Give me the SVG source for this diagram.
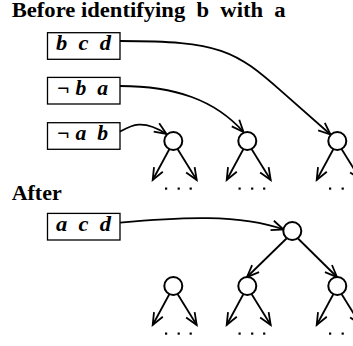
<svg xmlns="http://www.w3.org/2000/svg" width="353" height="346" viewBox="0 0 353 346">
<style>
.t{font-family:"Liberation Serif","Times New Roman",serif;font-weight:bold;font-size:20px;fill:#000;white-space:pre}
.i{font-style:italic}
.box{fill:#fff;stroke:#000;stroke-width:1.3}
.n{fill:#fff;stroke:#000;stroke-width:2}
.e{fill:none;stroke:#000;stroke-width:1.8;marker-end:url(#ah)}
.d{fill:#000}
</style>
<defs>
<marker id="ah" markerUnits="userSpaceOnUse" orient="auto" markerWidth="30" markerHeight="30" refX="0" refY="0" viewBox="-15 -15 30 30" overflow="visible">
<path d="M-12,-5 L0,0 L-12,5" fill="none" stroke="#000" stroke-width="1.8"/>
</marker>
<g id="dots"><rect x="-1" y="-1" width="2.2" height="2.2"/><rect x="11.6" y="-1" width="2.2" height="2.2"/><rect x="23.6" y="-1" width="2.2" height="2.2"/></g>
</defs>
<rect width="353" height="346" fill="#fff"/>
<g id="titles">
<text class="t" x="11.7" y="17.3" textLength="274" lengthAdjust="spacingAndGlyphs">Before identifying  b  with  a</text>
<text class="t" x="11.7" y="200" textLength="50" lengthAdjust="spacingAndGlyphs">After</text>
</g>
<g id="clause-bcd"><rect class="box" x="47.5" y="32.7" width="72.5" height="26.6"/><text class="t i" x="56" y="50" textLength="55" lengthAdjust="spacingAndGlyphs">b  c  d</text></g>
<g id="clause-nba"><rect class="box" x="47.5" y="77.4" width="72.5" height="26.6"/><text class="t i" x="57" y="95" textLength="51" lengthAdjust="spacingAndGlyphs">¬ b  a</text></g>
<g id="clause-nab"><rect class="box" x="47.5" y="122.7" width="72.5" height="26.6"/><text class="t i" x="57" y="140" textLength="51" lengthAdjust="spacingAndGlyphs">¬ a  b</text></g>
<g id="clause-acd"><rect class="box" x="47.5" y="213.4" width="72.5" height="26.6"/><text class="t i" x="56" y="231" textLength="55" lengthAdjust="spacingAndGlyphs">a  c  d</text></g>
<g id="connectors">
<path class="e" d="M120,41 C220,41 235,50 283,92.7 L330.5,134.5"/>
<path class="e" d="M120,86 C175,86 215,100 243.5,132"/>
<path class="e" d="M120,131.7 C130,126 142,118 166.5,134"/>
<path class="e" d="M120,222.7 C180,217 240,214 283.5,229.5"/>
<path class="e" d="M169.3,149.3 L152.7,180"/>
<path class="e" d="M177.7,149.3 L196.7,180"/>
<path class="e" d="M243.3,149.3 L226.7,180"/>
<path class="e" d="M251.7,149.3 L270.7,180"/>
<path class="e" d="M333.3,149.3 L316.7,180"/>
<path class="e" d="M341.7,149.3 L360.7,180"/>
<path class="e" d="M286.5,238.5 L247,277"/>
<path class="e" d="M298,238.5 L337,277"/>
<path class="e" d="M169.3,294.3 L152.7,325"/>
<path class="e" d="M177.7,294.3 L196.7,325"/>
<path class="e" d="M243.3,294.3 L226.7,325"/>
<path class="e" d="M251.7,294.3 L270.7,325"/>
<path class="e" d="M333.3,294.3 L316.7,325"/>
<path class="e" d="M341.7,294.3 L360.7,325"/>
</g>
<g id="node-1"><circle class="n" cx="173.3" cy="141" r="9"/><use href="#dots" x="166" y="188.5"/></g>
<g id="node-2"><circle class="n" cx="247.3" cy="141" r="9"/><use href="#dots" x="239.5" y="188.5"/></g>
<g id="node-3"><circle class="n" cx="337.3" cy="141" r="9"/><use href="#dots" x="330" y="188.5"/></g>
<g id="node-root"><circle class="n" cx="292.3" cy="231" r="9"/></g>
<g id="node-4"><circle class="n" cx="173.3" cy="286" r="9"/><use href="#dots" x="166" y="333.5"/></g>
<g id="node-5"><circle class="n" cx="247.3" cy="286" r="9"/><use href="#dots" x="239.5" y="333.5"/></g>
<g id="node-6"><circle class="n" cx="337.3" cy="286" r="9"/><use href="#dots" x="330" y="333.5"/></g>
</svg>
